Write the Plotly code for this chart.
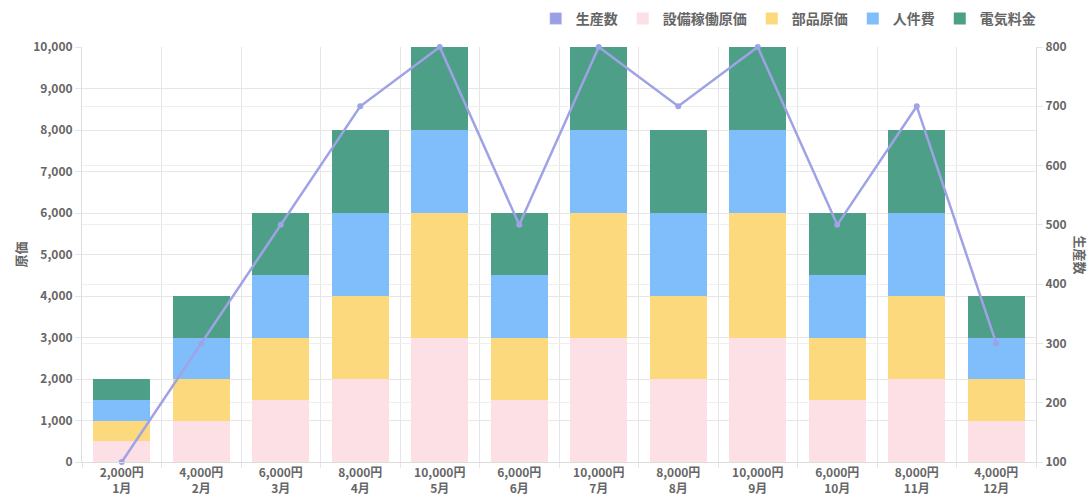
import plotly.graph_objects as go

months = ["1月", "2月", "3月", "4月", "5月", "6月", "7月", "8月", "9月", "10月", "11月", "12月"]
cost_labels = ["2,000円", "4,000円", "6,000円", "8,000円", "10,000円", "6,000円",
               "10,000円", "8,000円", "10,000円", "6,000円", "8,000円", "4,000円"]
equipment = [500, 1000, 1500, 2000, 3000, 1500, 3000, 2000, 3000, 1500, 2000, 1000]
parts = [500, 1000, 1500, 2000, 3000, 1500, 3000, 2000, 3000, 1500, 2000, 1000]
labor = [500, 1000, 1500, 2000, 2000, 1500, 2000, 2000, 2000, 1500, 2000, 1000]
electric = [500, 1000, 1500, 2000, 2000, 1500, 2000, 2000, 2000, 1500, 2000, 1000]
production = [100, 300, 500, 700, 800, 500, 800, 700, 800, 500, 700, 300]

x_labels = [f"{c}<br>{m}" for c, m in zip(cost_labels, months)]

FONT = "Noto Sans CJK JP"
TXT = "#666666"
GRID = "#e6e6e6"
LINE_C = "#9fa3e6"

fig = go.Figure()
# legend-only box for the line series
fig.add_trace(go.Bar(x=[x_labels[0]], y=[None], name="生産数", marker_color="#9a9fe8",
                     showlegend=True, hoverinfo="skip"))
series = [
    ("設備稼働原価", equipment, "#fde0e6"),
    ("部品原価", parts, "#fdd97e"),
    ("人件費", labor, "#80bdfb"),
    ("電気料金", electric, "#4e9f88"),
]
for name, vals, col in series:
    fig.add_trace(go.Bar(x=x_labels, y=vals, name=name, marker_color=col,
                         marker_line_width=0))
fig.add_trace(go.Scatter(x=x_labels, y=production, name="生産数", yaxis="y2",
                         mode="lines+markers", line=dict(color=LINE_C, width=2.5),
                         marker=dict(size=6, color=LINE_C), showlegend=False,
                         cliponaxis=False))

tickfont = dict(family=FONT, size=12, color=TXT, weight="bold")

fig.update_layout(
    width=1091, height=500,
    barmode="stack", bargap=0.28,
    plot_bgcolor="white", paper_bgcolor="white",
    margin=dict(l=82, r=55, t=47, b=38, autoexpand=False),
    font=dict(family=FONT, color=TXT, size=12),
    legend=dict(orientation="h", x=1.005, xanchor="right", y=1.068, yanchor="middle",
                font=dict(family=FONT, size=14, color=TXT, weight="bold"),
                traceorder="normal", bgcolor="rgba(0,0,0,0)"),
    xaxis=dict(type="category", range=[-0.5, len(months) - 0.5], tickson="boundaries",
               showgrid=True, gridcolor=GRID,
               ticks="outside", ticklen=5, tickcolor=GRID, automargin=False,
               showline=True, linecolor="#dddddd", tickfont=tickfont),
    yaxis=dict(range=[0, 10000], dtick=1000, tickformat=",", showgrid=True, gridcolor=GRID,
               zeroline=False, showline=True, linecolor="#dddddd", automargin=False,
               ticks="outside", ticklen=6, tickcolor=GRID, tickfont=tickfont),
    yaxis2=dict(range=[100, 800], dtick=100, overlaying="y", side="right",
                showgrid=True, gridcolor="#efefef", zeroline=False, automargin=False,
                showline=True, linecolor="#dddddd",
                ticks="outside", ticklen=6, tickcolor=GRID, tickfont=tickfont),
    annotations=[
        dict(text="原価", x=0, xref="paper", xanchor="center", xshift=-62,
             y=0.5, yref="paper", textangle=-90, showarrow=False,
             font=dict(family=FONT, size=13, color=TXT, weight="bold")),
        dict(text="生産数", x=1, xref="paper", xanchor="center", xshift=44,
             y=0.5, yref="paper", textangle=90, showarrow=False,
             font=dict(family=FONT, size=13, color=TXT, weight="bold")),
    ],
)

fig.write_html("out.html")
